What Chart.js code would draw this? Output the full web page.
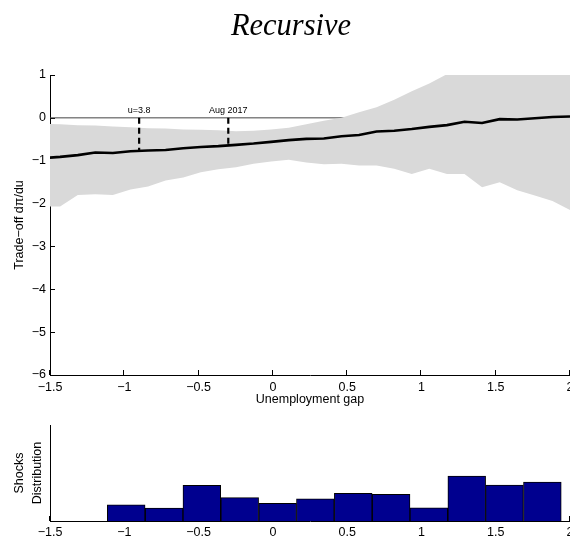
<!DOCTYPE html>
<html>
<head>
<meta charset="utf-8">
<script src="https://cdn.jsdelivr.net/npm/chart.js@4.4.1/dist/chart.umd.min.js"></script>
<style>
  html, body { margin: 0; padding: 0; background: #fff; overflow: hidden; }
  #wrap { position: relative; width: 570px; height: 540px; }
  #topChart { position: absolute; left: 0; top: 0; }
  #histChart { position: absolute; left: 0; top: 412px; }
  #title {
    position: absolute; left: 0; top: 8px; width: 582px; text-align: center;
    font: italic 30.5px "Liberation Serif", serif; color: #000;
  }
</style>
</head>
<body>
<div id="wrap">
  <canvas id="topChart" width="570" height="412"></canvas>
  <canvas id="histChart" width="570" height="128"></canvas>
  <div id="title">Recursive</div>
</div>
<script>
// Unemployment-gap grid and the recursive estimate of the trade-off dπ/du
const gapGrid = [-1.55, -1.432, -1.313, -1.195, -1.077, -0.958, -0.84, -0.722, -0.603, -0.485,
  -0.367, -0.248, -0.13, -0.012, 0.107, 0.225, 0.343, 0.462, 0.58, 0.698,
  0.817, 0.935, 1.053, 1.172, 1.29, 1.408, 1.527, 1.645, 1.763, 1.882, 2.0];
const tradeOff = [-0.94, -0.91, -0.87, -0.81, -0.82, -0.78, -0.76, -0.75, -0.71, -0.68,
  -0.66, -0.63, -0.60, -0.56, -0.52, -0.49, -0.48, -0.43, -0.40, -0.32,
  -0.30, -0.26, -0.21, -0.17, -0.09, -0.12, -0.03, -0.04, -0.01, 0.02, 0.03];
const bandUpper = [-0.14, -0.15, -0.17, -0.18, -0.20, -0.22, -0.24, -0.25, -0.27, -0.28,
  -0.29, -0.31, -0.30, -0.27, -0.23, -0.15, -0.07, 0.00, 0.13, 0.25,
  0.42, 0.62, 0.80, 1.02, 1.25, 1.50, 1.70, 1.90, 2.10, 2.30, 2.50];
const bandLower = [-2.07, -2.07, -1.80, -1.78, -1.80, -1.67, -1.60, -1.46, -1.39, -1.27,
  -1.20, -1.15, -1.07, -1.02, -0.98, -1.04, -1.08, -1.07, -1.11, -1.11,
  -1.19, -1.31, -1.19, -1.31, -1.31, -1.62, -1.50, -1.69, -1.81, -1.94, -2.15];

// Marked dates on the curve
const markerGap = [-0.9, -0.3];
const markerLabel = ['u=3.8', 'Aug 2017'];
const markerTradeOff = [-0.77, -0.63];

// Histogram of unemployment-gap shocks
const shockBins = [-0.987, -0.732, -0.478, -0.223, 0.032, 0.286, 0.541, 0.796, 1.050, 1.305, 1.559, 1.814];
const shockCounts = [5.4, 4.3, 11.9, 7.8, 5.9, 7.4, 9.2, 8.9, 4.4, 15.0, 12.0, 13.0];

// Axis ticks
const gapTicks = [-1.5, -1, -0.5, 0, 0.5, 1, 1.5, 2];
const tradeOffTicks = [1, 0, -1, -2, -3, -4, -5, -6];

const AXIS = '#000';
const FONT = { family: '"Liberation Sans", Arial, sans-serif', size: 12.5 };
const fmt = v => String(v).replace('-', '\u2212');

// MATLAB-style tick marks pointing into the plot area
const inwardTicks = {
  id: 'inwardTicks',
  beforeDatasetsDraw(chart, args, opts) {
    const { ctx, chartArea: a } = chart;
    const len = 5;
    ctx.save();
    ctx.strokeStyle = AXIS;
    ctx.lineWidth = 1;
    ctx.beginPath();
    const xs = chart.scales.x;
    xs.ticks.forEach(t => {
      const px = Math.round(xs.getPixelForValue(t.value)) - 0.5;
      ctx.moveTo(px, a.bottom);
      ctx.lineTo(px, a.bottom - len);
    });
    if (opts.y) {
      const ys = chart.scales.y;
      ys.ticks.forEach(t => {
        const py = Math.round(ys.getPixelForValue(t.value)) + 0.5;
        ctx.moveTo(a.left, py);
        ctx.lineTo(a.left + len, py);
      });
    }
    ctx.stroke();
    ctx.restore();
  }
};

// Text tags above the zero line for the marked dates
const markerTags = {
  id: 'markerTags',
  afterDatasetsDraw(chart) {
    const { ctx } = chart;
    const xs = chart.scales.x, ys = chart.scales.y;
    ctx.save();
    ctx.fillStyle = '#000';
    ctx.font = '9px "Liberation Sans", Arial, sans-serif';
    ctx.textAlign = 'center';
    ctx.textBaseline = 'alphabetic';
    markerGap.forEach((g, i) => {
      ctx.fillText(markerLabel[i], xs.getPixelForValue(g), ys.getPixelForValue(0) - 4.5);
    });
    ctx.restore();
  }
};

const pts = (xs, ys) => xs.map((x, i) => ({ x, y: ys[i] }));

const markerSets = markerGap.map((g, i) => ({
  data: [{ x: g, y: 0 }, { x: g, y: markerTradeOff[i] }],
  borderColor: '#000', borderWidth: 2.2, borderDash: [6, 4],
  pointRadius: 0, fill: false, order: 0
}));

new Chart(document.getElementById('topChart'), {
  type: 'line',
  data: {
    datasets: [
      { // zero reference
        data: [{ x: -1.5, y: 0 }, { x: 2, y: 0 }],
        borderColor: '#444', borderWidth: 1, pointRadius: 0, fill: false, order: 10
      },
      { // upper band edge
        data: pts(gapGrid, bandUpper),
        borderColor: 'rgba(0,0,0,0)', borderWidth: 0, pointRadius: 0,
        backgroundColor: 'rgb(217,217,217)', fill: { target: 2 }, order: 5
      },
      { // lower band edge
        data: pts(gapGrid, bandLower),
        borderColor: 'rgba(0,0,0,0)', borderWidth: 0, pointRadius: 0, fill: false, order: 5
      },
      { // trade-off estimate
        data: pts(gapGrid, tradeOff),
        borderColor: '#000', borderWidth: 2.6, pointRadius: 0, fill: false,
        tension: 0, order: 1
      },
      ...markerSets
    ]
  },
  options: {
    responsive: false,
    animation: false,
    events: [],
    layout: { padding: { top: 75, left: 0, right: 0, bottom: 0 } },
    plugins: { legend: { display: false }, tooltip: { enabled: false }, inwardTicks: { y: true } },
    scales: {
      x: {
        type: 'linear', min: -1.5, max: 2,
        afterBuildTicks: s => { s.ticks = gapTicks.map(v => ({ value: v })); },
        afterFit: s => { s.height = 37; s.paddingRight = 0; s.paddingLeft = 0; },
        grid: { display: false, drawTicks: false },
        border: { display: true, color: AXIS, width: 1 },
        ticks: { color: '#000', font: FONT, padding: 5, maxRotation: 0, autoSkip: false, callback: fmt },
        title: { display: true, text: 'Unemployment gap', color: '#000', font: FONT, padding: { top: 0, bottom: 4.5 } }
      },
      y: {
        type: 'linear', min: -6, max: 1,
        afterBuildTicks: s => { s.ticks = tradeOffTicks.map(v => ({ value: v })); },
        afterFit: s => { s.width = 50; },
        grid: { display: false, drawTicks: false },
        border: { display: true, color: AXIS, width: 1 },
        ticks: { color: '#000', font: FONT, padding: 4, callback: fmt },
        title: { display: true, text: 'Trade\u2212off d\u03c0/du', color: '#000', font: FONT, padding: { top: 12, bottom: 0 } }
      }
    }
  },
  plugins: [inwardTicks, markerTags]
});

new Chart(document.getElementById('histChart'), {
  type: 'bar',
  data: {
    datasets: [{
      data: pts(shockBins, shockCounts),
      backgroundColor: 'rgb(0,0,143)', borderColor: '#000', borderWidth: 1,
      barPercentage: 1, categoryPercentage: 1
    }]
  },
  options: {
    responsive: false,
    animation: false,
    events: [],
    layout: { padding: { top: 13, left: 0, right: 0, bottom: 0 } },
    plugins: { legend: { display: false }, tooltip: { enabled: false }, inwardTicks: { y: false } },
    scales: {
      x: {
        type: 'linear', min: -1.5, max: 2, offset: false,
        afterBuildTicks: s => { s.ticks = gapTicks.map(v => ({ value: v })); },
        afterFit: s => { s.height = 19; s.paddingRight = 0; s.paddingLeft = 0; },
        grid: { display: false, drawTicks: false },
        border: { display: true, color: AXIS, width: 1 },
        ticks: { color: '#000', font: FONT, padding: 4, maxRotation: 0, autoSkip: false, callback: fmt }
      },
      y: {
        type: 'linear', min: 0, max: 32,
        afterFit: s => { s.width = 50; },
        grid: { display: false, drawTicks: false },
        border: { display: true, color: AXIS, width: 1 },
        ticks: { display: false },
        title: {
          display: true, text: ['Shocks', 'Distribution'], color: '#000',
          font: { family: FONT.family, size: 12.5, lineHeight: '18.5px' },
          padding: { top: 10, bottom: 0 }
        }
      }
    }
  },
  plugins: [inwardTicks]
});
</script>
</body>
</html>
